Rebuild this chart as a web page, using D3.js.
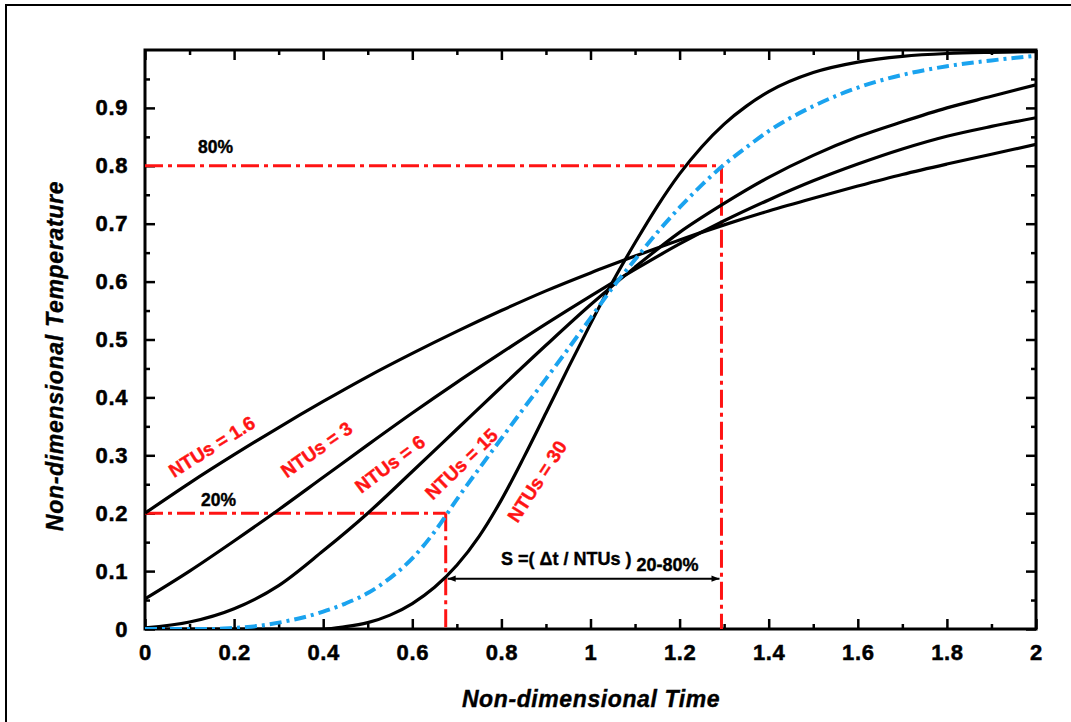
<!DOCTYPE html>
<html>
<head>
<meta charset="utf-8">
<script src="https://cdn.jsdelivr.net/npm/d3@7"></script>
<style>
  html, body { margin: 0; padding: 0; background: #fff; }
  svg { display: block; }
  text { font-family: Arial, "Liberation Sans", Helvetica, sans-serif; font-weight: bold; }
</style>
</head>
<body>
<svg id="chart" width="1071" height="722"></svg>
<script>
// Time grids for the breakthrough curves
const timeCoarse = [0, 0.1, 0.2, 0.3, 0.4, 0.5, 0.6, 0.7, 0.8, 0.9, 1.0, 1.1, 1.2, 1.3, 1.4, 1.5, 1.6, 1.7, 1.8, 1.9, 2.0];
const timeFine30 = [0, 0.2, 0.4, 0.45, 0.5, 0.55, 0.6, 0.65, 0.7, 0.75, 0.8, 0.85, 0.9, 0.95, 1.0, 1.05, 1.1, 1.15, 1.2, 1.25, 1.3, 1.35, 1.4, 1.5, 1.6, 1.7, 1.8, 1.9, 2.0];
const timeFine15 = [0, 0.1, 0.15, 0.2, 0.25, 0.3, 0.35, 0.4, 0.45, 0.5, 0.55, 0.6, 0.65, 0.7, 0.75, 0.8, 0.85, 0.9, 0.95, 1.0, 1.05, 1.1, 1.15, 1.2, 1.25, 1.3, 1.35, 1.4, 1.5, 1.6, 1.7, 1.8, 1.9, 2.0];

// Non-dimensional temperature for each NTUs value
const ntu1p6 = [0.200, 0.252, 0.301, 0.348, 0.393, 0.436, 0.476, 0.514, 0.550, 0.584, 0.615, 0.644, 0.672, 0.698, 0.722, 0.744, 0.765, 0.785, 0.803, 0.820, 0.837];
const ntu3   = [0.052, 0.100, 0.152, 0.206, 0.262, 0.318, 0.373, 0.426, 0.477, 0.527, 0.575, 0.621, 0.665, 0.705, 0.741, 0.774, 0.803, 0.829, 0.851, 0.868, 0.883];
const ntu6   = [0.002, 0.012, 0.035, 0.075, 0.135, 0.200, 0.272, 0.345, 0.418, 0.490, 0.560, 0.625, 0.685, 0.735, 0.780, 0.818, 0.850, 0.876, 0.900, 0.920, 0.940];
const ntu30  = [0, 0, 0, 0.004, 0.011, 0.024, 0.044, 0.072, 0.110, 0.160, 0.223, 0.296, 0.373, 0.451, 0.527, 0.600, 0.667, 0.730, 0.786, 0.833, 0.872, 0.903, 0.928, 0.961, 0.979, 0.989, 0.994, 0.996, 0.997];
const ntu15  = [0, 0, 0, 0.002, 0.005, 0.011, 0.019, 0.030, 0.044, 0.062, 0.088, 0.122, 0.168, 0.224, 0.277, 0.329, 0.381, 0.432, 0.484, 0.537, 0.590, 0.638, 0.685, 0.728, 0.767, 0.802, 0.832, 0.860, 0.903, 0.935, 0.957, 0.972, 0.982, 0.990];

// Axis ticks
const xMajorTicks = [0, 0.2, 0.4, 0.6, 0.8, 1, 1.2, 1.4, 1.6, 1.8, 2];
const xMinorTicks = [0.1, 0.3, 0.5, 0.7, 0.9, 1.1, 1.3, 1.5, 1.7, 1.9];
const yMajorTicks = [0, 0.1, 0.2, 0.3, 0.4, 0.5, 0.6, 0.7, 0.8, 0.9];
const yMinorTicks = [0.05, 0.15, 0.25, 0.35, 0.45, 0.55, 0.65, 0.75, 0.85, 0.95];

// 20% / 80% breakthrough markers
const levelLow = 0.2, levelHigh = 0.8;
const timeLow = 0.675, timeHigh = 1.294;
const arrowLevel = 0.087;

// Curve labels: text, anchor point (time, temperature), rotation
const curveLabels = [
  { text: "NTUs = 1.6", t: 0.150, v: 0.315, angle: -32 },
  { text: "NTUs = 3",   t: 0.385, v: 0.310, angle: -35 },
  { text: "NTUs = 6",   t: 0.550, v: 0.285, angle: -37 },
  { text: "NTUs = 15",  t: 0.710, v: 0.285, angle: -44 },
  { text: "NTUs = 30",  t: 0.880, v: 0.255, angle: -57 }
];

const svg = d3.select("#chart");
const W = 1071, H = 722;
const plot = { left: 145, right: 1036, top: 50, bottom: 629 };

// Outer frame (runs off the right and bottom edges)
svg.append("rect")
  .attr("x", 6).attr("y", 5).attr("width", W + 10).attr("height", H + 10)
  .attr("fill", "none").attr("stroke", "#000").attr("stroke-width", 2);

const x = d3.scaleLinear().domain([0, 2]).range([plot.left, plot.right]);
const y = d3.scaleLinear().domain([0, 1]).range([plot.bottom, plot.top]);

const defs = svg.append("defs");
defs.append("clipPath").attr("id", "plotClip")
  .append("rect").attr("x", plot.left).attr("y", plot.top - 2)
  .attr("width", plot.right - plot.left).attr("height", plot.bottom - plot.top + 2);

const fmt = d => (d === 0 ? "0" : d3.format("~g")(d));

function styleAxis(g) {
  g.select(".domain").remove();
  g.selectAll(".tick line").attr("stroke", "#000").attr("stroke-width", 2.5);
  g.selectAll(".tick text").attr("fill", "#000")
    .attr("font-size", 22).attr("letter-spacing", 0.6)
    .attr("stroke", "#000").attr("stroke-width", 0.5)
    .attr("font-family", "Arial, 'Liberation Sans', sans-serif").attr("font-weight", "bold");
}

// Bottom axis: labelled major ticks + minor ticks, all pointing inward
svg.append("g").attr("transform", `translate(0,${plot.bottom})`)
  .call(d3.axisBottom(x).tickValues(xMajorTicks).tickFormat(fmt).tickSize(-10).tickPadding(15))
  .call(styleAxis);
svg.append("g").attr("transform", `translate(0,${plot.bottom})`)
  .call(d3.axisBottom(x).tickValues(xMinorTicks).tickFormat("").tickSize(-5))
  .call(styleAxis);

// Top axis ticks
svg.append("g").attr("transform", `translate(0,${plot.top})`)
  .call(d3.axisTop(x).tickValues(xMajorTicks).tickFormat("").tickSize(-10))
  .call(styleAxis);
svg.append("g").attr("transform", `translate(0,${plot.top})`)
  .call(d3.axisTop(x).tickValues(xMinorTicks).tickFormat("").tickSize(-5))
  .call(styleAxis);

// Left axis
svg.append("g").attr("transform", `translate(${plot.left},0)`)
  .call(d3.axisLeft(y).tickValues(yMajorTicks).tickFormat(fmt).tickSize(-10).tickPadding(17))
  .call(styleAxis);
svg.append("g").attr("transform", `translate(${plot.left},0)`)
  .call(d3.axisLeft(y).tickValues(yMinorTicks).tickFormat("").tickSize(-5))
  .call(styleAxis);

// Right axis ticks
svg.append("g").attr("transform", `translate(${plot.right},0)`)
  .call(d3.axisRight(y).tickValues(yMajorTicks).tickFormat("").tickSize(-10))
  .call(styleAxis);
svg.append("g").attr("transform", `translate(${plot.right},0)`)
  .call(d3.axisRight(y).tickValues(yMinorTicks).tickFormat("").tickSize(-5))
  .call(styleAxis);

// Plot box
svg.append("rect")
  .attr("x", plot.left).attr("y", plot.top)
  .attr("width", plot.right - plot.left).attr("height", plot.bottom - plot.top)
  .attr("fill", "none").attr("stroke", "#000").attr("stroke-width", 3);

// 20% / 80% reference lines
const red = "#ff1414";
const refDash = "18,5,4,5";
const refG = svg.append("g").attr("fill", "none").attr("stroke", red).attr("stroke-width", 3).attr("stroke-dasharray", refDash);
refG.append("line").attr("x1", x(0)).attr("x2", x(timeLow)).attr("y1", y(levelLow)).attr("y2", y(levelLow));
refG.append("line").attr("x1", x(timeLow)).attr("x2", x(timeLow)).attr("y1", y(levelLow)).attr("y2", y(0));
refG.append("line").attr("x1", x(0)).attr("x2", x(timeHigh)).attr("y1", y(levelHigh)).attr("y2", y(levelHigh));
refG.append("line").attr("x1", x(timeHigh)).attr("x2", x(timeHigh)).attr("y1", y(levelHigh)).attr("y2", y(0));

// Curves
const line = d3.line().curve(d3.curveMonotoneX).x(d => x(d[0])).y(d => y(d[1]));
const curvesG = svg.append("g").attr("clip-path", "url(#plotClip)").attr("fill", "none");
const blackSeries = [[timeCoarse, ntu1p6], [timeCoarse, ntu3], [timeCoarse, ntu6], [timeFine30, ntu30]];
blackSeries.forEach(([ts, vs]) => {
  curvesG.append("path")
    .attr("d", line(ts.map((t, i) => [t, vs[i]])))
    .attr("stroke", "#000").attr("stroke-width", 3.2);
});
curvesG.append("path")
  .attr("d", line(timeFine15.map((t, i) => [t, ntu15[i]])))
  .attr("stroke", "#1aa3ef").attr("stroke-width", 4)
  .attr("stroke-dasharray", "12,5,3,5");

// Double-headed arrow between the 20% and 80% times
defs.append("marker").attr("id", "arrowHead")
  .attr("viewBox", "0 0 10 10").attr("refX", 10).attr("refY", 5)
  .attr("markerWidth", 13).attr("markerHeight", 8).attr("markerUnits", "userSpaceOnUse")
  .attr("orient", "auto-start-reverse")
  .append("path").attr("d", "M0,1 L10,5 L0,9 Z").attr("fill", "#000");
svg.append("line")
  .attr("x1", x(timeLow) + 2).attr("x2", x(timeHigh) - 2)
  .attr("y1", y(arrowLevel)).attr("y2", y(arrowLevel))
  .attr("stroke", "#000").attr("stroke-width", 2)
  .attr("marker-start", "url(#arrowHead)").attr("marker-end", "url(#arrowHead)");

const sText = svg.append("text").attr("x", 501).attr("y", 565).attr("font-size", 18)
  .attr("fill", "#000").attr("stroke", "#000").attr("stroke-width", 0.4);
sText.append("tspan").text("S =( \u0394t / NTUs )");
sText.append("tspan").attr("dx", 5).attr("dy", 6).text("20-80%");

// Percentage labels
svg.append("text").attr("x", 198).attr("y", 153).attr("font-size", 17.5)
  .attr("fill", "#000").attr("stroke", "#000").attr("stroke-width", 0.4).text("80%");
svg.append("text").attr("x", 201).attr("y", 506).attr("font-size", 17.5)
  .attr("fill", "#000").attr("stroke", "#000").attr("stroke-width", 0.4).text("20%");

// Curve labels
svg.append("g").selectAll("text").data(curveLabels).join("text")
  .attr("transform", d => `translate(${x(d.t)},${y(d.v)}) rotate(${d.angle})`)
  .attr("text-anchor", "middle").attr("dy", "0.35em")
  .attr("font-size", 19).attr("fill", red).attr("stroke", red).attr("stroke-width", 0.4)
  .text(d => d.text);

// Axis titles
svg.append("text").attr("x", 591).attr("y", 707).attr("text-anchor", "middle")
  .attr("font-size", 23).attr("letter-spacing", 0.6).attr("font-style", "italic")
  .attr("fill", "#000").attr("stroke", "#000").attr("stroke-width", 0.4)
  .text("Non-dimensional Time");
svg.append("text").attr("transform", "translate(63,356) rotate(-90)").attr("text-anchor", "middle")
  .attr("font-size", 23).attr("letter-spacing", 0.7).attr("font-style", "italic")
  .attr("fill", "#000").attr("stroke", "#000").attr("stroke-width", 0.4)
  .text("Non-dimensional Temperature");
</script>
</body>
</html>
